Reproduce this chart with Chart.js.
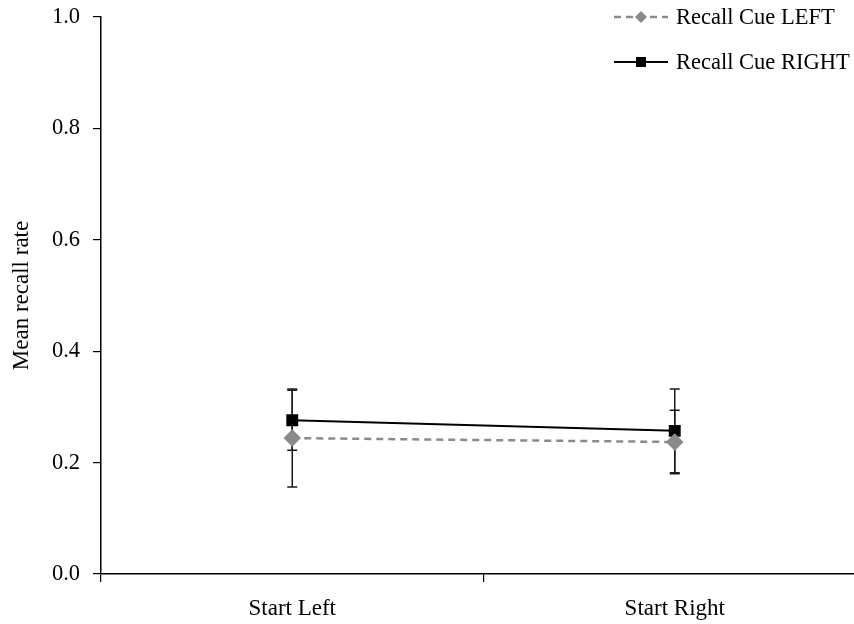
<!DOCTYPE html>
<html>
<head>
<meta charset="utf-8">
<script src="https://cdn.jsdelivr.net/npm/chart.js@4/dist/chart.umd.min.js"></script>
<style>
  html, body { margin: 0; padding: 0; background: #fff; }
  #wrap { width: 854px; height: 624px; }
</style>
</head>
<body>
<div id="wrap"><canvas id="grafico" width="854" height="624"></canvas></div>
<script>
var categorias = ['Start Left', 'Start Right'];
var cueLeft = [0.244, 0.237];
var cueLeftErr = [0.088, 0.057];
var cueRight = [0.276, 0.257];
var cueRightErr = [0.054, 0.075];
var yTicks = [0.0, 0.2, 0.4, 0.6, 0.8, 1.0];

var fonte = 'Liberation Serif, Times New Roman, serif';
var cinza = '#8a8a8a';

// the original plot area runs past the right edge of the picture
var area = { left: 101, top: 17, right: 866, bottom: 574 };

var fixarArea = {
    id: 'fixarArea',
    afterLayout: function (chart) {
        var ca = chart.chartArea;
        ca.left = area.left; ca.top = area.top; ca.right = area.right; ca.bottom = area.bottom;
        ca.width = area.right - area.left; ca.height = area.bottom - area.top;
        var x = chart.scales.x, y = chart.scales.y;
        x.left = area.left; x.right = area.right; x.width = area.right - area.left;
        x.top = area.bottom; x.bottom = chart.height; x.height = chart.height - area.bottom;
        y.left = 0; y.right = area.left; y.width = area.left;
        y.top = area.top; y.bottom = area.bottom; y.height = area.bottom - area.top;
        x.configure(); y.configure();
        x._labelItems = null; y._labelItems = null;
        x._gridLineItems = null; y._gridLineItems = null;
    }
};

// error bars drawn through the chart's own scales
var barrasErro = {
    id: 'barrasErro',
    beforeDatasetsDraw: function (chart) {
        var ctx = chart.ctx;
        var y = chart.scales.y;
        var erros = [cueLeftErr, cueRightErr];
        ctx.save();
        ctx.strokeStyle = '#1a1a1a';
        ctx.lineWidth = 1.5;
        chart.data.datasets.forEach(function (ds, i) {
            var meta = chart.getDatasetMeta(i);
            meta.data.forEach(function (pt, j) {
                var v = ds.data[j], e = erros[i][j];
                var top = y.getPixelForValue(v + e);
                var bot = y.getPixelForValue(v - e);
                var x = pt.x;
                ctx.beginPath();
                ctx.moveTo(x, top); ctx.lineTo(x, bot);
                ctx.moveTo(x - 5, top); ctx.lineTo(x + 5, top);
                ctx.moveTo(x - 5, bot); ctx.lineTo(x + 5, bot);
                ctx.stroke();
            });
        });
        ctx.restore();
    }
};

// legend with line + marker, like the original
var legenda = {
    id: 'legenda',
    afterDraw: function (chart) {
        var ctx = chart.ctx;
        var itens = [
            { texto: 'Recall Cue LEFT', cor: cinza, dash: [7, 5], largura: 2.5, forma: 'diamond', y: 17 },
            { texto: 'Recall Cue RIGHT', cor: '#000', dash: [], largura: 2, forma: 'square', y: 62 }
        ];
        ctx.save();
        itens.forEach(function (it) {
            ctx.strokeStyle = it.cor;
            ctx.fillStyle = it.cor;
            ctx.lineWidth = it.largura;
            ctx.setLineDash(it.dash);
            ctx.beginPath();
            ctx.moveTo(614, it.y); ctx.lineTo(668, it.y);
            ctx.stroke();
            ctx.setLineDash([]);
            ctx.beginPath();
            if (it.forma === 'diamond') {
                ctx.moveTo(641, it.y - 6); ctx.lineTo(647, it.y);
                ctx.lineTo(641, it.y + 6); ctx.lineTo(635, it.y);
                ctx.closePath(); ctx.fill();
            } else {
                ctx.fillRect(636, it.y - 5, 10, 10);
            }
            ctx.fillStyle = '#000';
            ctx.font = '22.5px ' + fonte;
            ctx.textBaseline = 'middle';
            ctx.fillText(it.texto, 676, it.y + 1);
        });
        ctx.restore();
    }
};

new Chart(document.getElementById('grafico'), {
    type: 'line',
    data: {
        labels: categorias,
        datasets: [{
            label: 'Recall Cue LEFT',
            data: cueLeft,
            borderColor: cinza,
            backgroundColor: cinza,
            borderWidth: 2.5,
            borderDash: [7, 5],
            pointStyle: 'rectRot',
            pointRadius: 7,
            fill: false
        }, {
            label: 'Recall Cue RIGHT',
            data: cueRight,
            borderColor: '#000',
            backgroundColor: '#000',
            borderWidth: 2,
            pointStyle: 'rect',
            pointRadius: 7,
            fill: false
        }]
    },
    options: {
        responsive: false,
        animation: false,
        plugins: {
            legend: { display: false },
            tooltip: { enabled: false }
        },
        scales: {
            x: {
                offset: true,
                grid: { offset: true, drawOnChartArea: false, tickLength: 8, color: '#000', lineWidth: 1.2 },
                border: { color: '#000', width: 1.5 },
                ticks: { color: '#000', font: { family: fonte, size: 23 }, padding: 13 }
            },
            y: {
                min: 0,
                max: 1,
                afterBuildTicks: function (s) { s.ticks = yTicks.map(function (v) { return { value: v }; }); },
                grid: { drawOnChartArea: false, tickLength: 8, color: '#000', lineWidth: 1.2 },
                border: { color: '#000', width: 1.5 },
                ticks: {
                    color: '#000',
                    font: { family: fonte, size: 22.5 },
                    padding: 13,
                    callback: function (v) { return Number(v).toFixed(1); }
                },
                title: {
                    display: true,
                    text: 'Mean recall rate',
                    color: '#000',
                    font: { family: fonte, size: 23 },
                    padding: { top: 8 }
                }
            }
        }
    },
    plugins: [fixarArea, barrasErro, legenda]
});
</script>
</body>
</html>
